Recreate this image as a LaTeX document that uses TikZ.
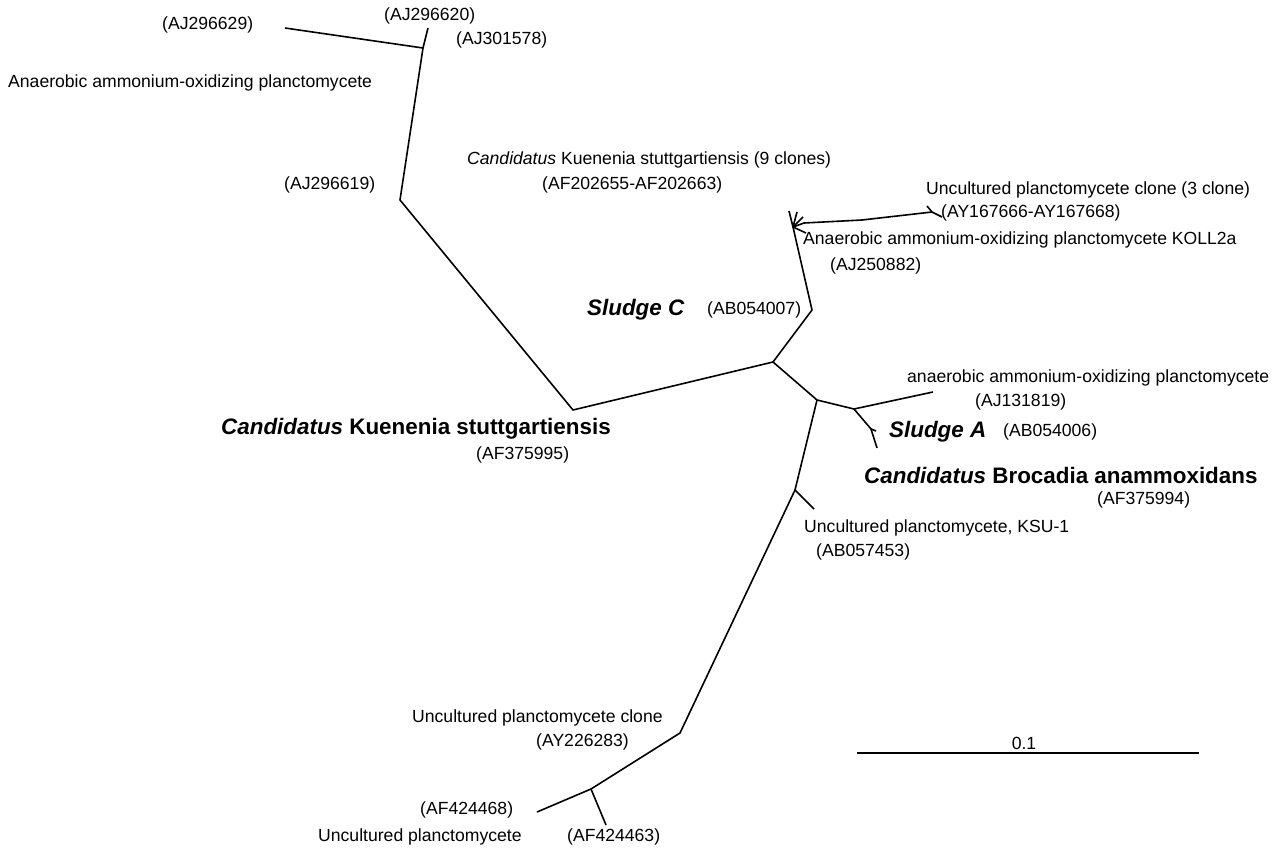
\documentclass[tikz,border=0pt]{standalone}
\usepackage{fontspec}
\setmainfont{Liberation Sans}
\tikzset{
    lbl/.style={anchor=west, inner sep=0pt, font=\fontsize{17.6}{20}\selectfont},
    biglbl/.style={anchor=west, inner sep=0pt, font=\fontsize{22.4}{26}\selectfont\bfseries},
    branch/.style={line width=1.6pt, line join=round}
}
\begin{document}
\begin{tikzpicture}[x=1pt, y=-1pt]
    \useasboundingbox (0,0) rectangle (1283,854);

    % tree nodes
    \coordinate (root) at (773,362);
    \coordinate (kue) at (573,410);
    \coordinate (k1) at (400,200);
    \coordinate (k2) at (423,48);
    \coordinate (t629) at (285,28);
    \coordinate (t620) at (428,28);
    \coordinate (slc) at (812,310);
    \coordinate (kst) at (793,227);
    \coordinate (kst1) at (789,211);
    \coordinate (kst2) at (797,212);
    \coordinate (kst3) at (803,217);
    \coordinate (kst4) at (806,233);
    \coordinate (koll) at (804,223);
    \coordinate (koll1) at (862,220);
    \coordinate (unc3) at (932,212);
    \coordinate (unc3a) at (927,206);
    \coordinate (unc3b) at (942,217);
    \coordinate (bro) at (817,400);
    \coordinate (amx) at (854,409);
    \coordinate (t819) at (933,392);
    \coordinate (sla) at (871,429);
    \coordinate (sla1) at (876,431);
    \coordinate (t994) at (877,448);
    \coordinate (ksu) at (795,490);
    \coordinate (t453) at (814,509);
    \coordinate (unc) at (680,733);
    \coordinate (unc2) at (591,789);
    \coordinate (t468) at (537,812);
    \coordinate (t463) at (606,825);
    \coordinate (sb1) at (857,753);
    \coordinate (sb2) at (1199,753);

    % branches
    \draw[branch] (root) -- (kue) -- (k1) -- (k2) -- (t629);
    \draw[branch] (k2) -- (t620);
    \draw[branch] (root) -- (slc) -- (kst);
    \draw[branch] (kst) -- (kst1);
    \draw[branch] (kst) -- (kst2);
    \draw[branch] (kst) -- (kst3);
    \draw[branch] (kst) -- (kst4);
    \draw[branch] (kst) -- (koll) -- (koll1) -- (unc3);
    \draw[branch] (unc3a) -- (unc3) -- (unc3b);
    \draw[branch] (root) -- (bro) -- (amx) -- (t819);
    \draw[branch] (amx) -- (sla) -- (t994);
    \draw[branch] (sla) -- (sla1);
    \draw[branch] (bro) -- (ksu) -- (t453);
    \draw[branch] (ksu) -- (unc) -- (unc2) -- (t468);
    \draw[branch] (unc2) -- (t463);
    \draw[branch] (sb1) -- (sb2);

    % labels
    \node[lbl] (l629) at (162,25) {(AJ296629)};
    \node[lbl] (l620) at (384,16) {(AJ296620)};
    \node[lbl] (l578) at (456,40) {(AJ301578)};
    \node[lbl] (lanp) at (8,83) {Anaerobic ammonium-oxidizing planctomycete};
    \node[lbl] (l619) at (284,185) {(AJ296619)};
    \node[lbl] (lks9) at (467,160) {\textit{Candidatus} Kuenenia stuttgartiensis (9 clones)};
    \node[lbl] (l655) at (542,185) {(AF202655-AF202663)};
    \node[lbl] (lu3) at (926,190) {Uncultured planctomycete clone (3 clone)};
    \node[lbl] (l666) at (941,213) {(AY167666-AY167668)};
    \node[lbl] (lkoll) at (803,240) {Anaerobic ammonium-oxidizing planctomycete KOLL2a};
    \node[lbl] (l882) at (830,266) {(AJ250882)};
    \node[biglbl] (lslc) at (587,310) {\itshape Sludge C};
    \node[lbl] (l007) at (707,310) {(AB054007)};
    \node[biglbl] (lkue) at (221,429) {\textit{Candidatus} Kuenenia stuttgartiensis};
    \node[lbl] (l995) at (476,455) {(AF375995)};
    \node[lbl] (lamx) at (907,378) {anaerobic ammonium-oxidizing planctomycete};
    \node[lbl] (l819) at (975,402) {(AJ131819)};
    \node[biglbl] (lsla) at (889,432) {\itshape Sludge A};
    \node[lbl] (l006) at (1003,432) {(AB054006)};
    \node[biglbl] (lbro) at (864,475) {\textit{Candidatus} Brocadia anammoxidans};
    \node[lbl] (l994) at (1097,500) {(AF375994)};
    \node[lbl] (lksu) at (804,528) {Uncultured planctomycete, KSU-1};
    \node[lbl] (l453) at (816,552) {(AB057453)};
    \node[lbl] (lunc) at (412,718) {Uncultured planctomycete clone};
    \node[lbl] (l283) at (536,742) {(AY226283)};
    \node[lbl] (l468) at (420,810) {(AF424468)};
    \node[lbl] (lunp) at (318,837) {Uncultured planctomycete};
    \node[lbl] (l463) at (567,837) {(AF424463)};
    \node[lbl, anchor=center] (lsb) at (1024,743) {0.1};
\end{tikzpicture}
\end{document}
